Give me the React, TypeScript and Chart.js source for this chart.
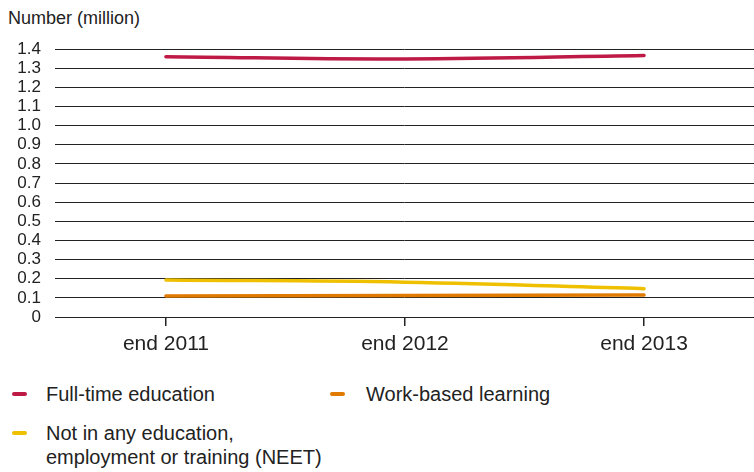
import React, { useEffect, useRef } from "react";
import { Chart, registerables } from "chart.js";

Chart.register(...registerables);

const categories = ["end 2011", "end 2012", "end 2013"];
const fullTime = [1.36, 1.348, 1.366];
const workBased = [0.11, 0.112, 0.115];
const neet = [0.193, 0.182, 0.148];
const yTicks = [0, 0.1, 0.2, 0.3, 0.4, 0.5, 0.6, 0.7, 0.8, 0.9, 1.0, 1.1, 1.2, 1.3, 1.4];

const seriesNames = [
  "Full-time education",
  "Work-based learning",
  "Not in any education, employment or training (NEET)",
];
const colors = ["#BE1A45", "#E07A00", "#EFC000"];
const FONT = "'Liberation Sans', Arial, sans-serif";

export default function App() {
  const ref = useRef<HTMLCanvasElement | null>(null);
  useEffect(() => {
    if (!ref.current) return;
    const chart = new Chart(ref.current, {
      type: "line",
      data: {
        datasets: [
          { label: seriesNames[0], data: fullTime.map((v, i) => ({ x: i, y: v })), borderColor: colors[0] },
          { label: seriesNames[1], data: workBased.map((v, i) => ({ x: i, y: v })), borderColor: colors[1] },
          { label: seriesNames[2], data: neet.map((v, i) => ({ x: i, y: v })), borderColor: colors[2] },
        ].map((d) => ({ ...d, borderWidth: 3.5, pointRadius: 0, tension: 0.4, fill: false, borderCapStyle: "round" as const })),
      },
      options: {
        responsive: false,
        animation: false,
        layout: { padding: { top: 49, left: 0, right: 0, bottom: 0 } },
        plugins: { legend: { display: false }, tooltip: { enabled: false }, title: { display: false } },
        scales: {
          x: {
            type: "linear",
            min: -0.464,
            max: 2.46,
            afterBuildTicks: (axis: any) => {
              axis.ticks = categories.map((_, i) => ({ value: i }));
            },
            afterFit: (axis: any) => {
              axis.height = 53;
            },
            ticks: {
              callback: (v: any) => categories[Number(v)] ?? "",
              font: { family: FONT, size: 21 },
              color: "#222",
              padding: 6,
              maxRotation: 0,
              autoSkip: false,
            },
            grid: { drawOnChartArea: false, drawTicks: true, tickLength: 9, color: "#222", lineWidth: 1.5 },
            border: { display: false },
          },
          y: {
            min: 0,
            max: 1.4,
            afterBuildTicks: (axis: any) => {
              axis.ticks = yTicks.map((v) => ({ value: v }));
            },
            afterFit: (axis: any) => {
              axis.width = 55;
            },
            ticks: {
              callback: (v: any) => (Number(v) === 0 ? "0" : Number(v).toFixed(1)),
              font: { family: FONT, size: 17 },
              color: "#222",
              padding: 14,
              autoSkip: false,
            },
            grid: { drawTicks: false, color: "#222", lineWidth: 1 },
            border: { display: false },
          },
        },
      },
    });
    return () => chart.destroy();
  }, []);

  const dash = (c: string, top: number) => (
    <span style={{ position: "absolute", left: 0, top, width: 15, height: 4, borderRadius: 2, background: c }} />
  );

  return (
    <div style={{ position: "fixed", left: 0, top: 0, width: 754, height: 472, background: "#fff", fontFamily: FONT, color: "#222" }}>
      <div style={{ position: "absolute", left: 8, top: 8, fontSize: 18 }}>Number (million)</div>
      <canvas ref={ref} width={754} height={370} style={{ position: "absolute", left: 0, top: 0 }} />
      <div style={{ position: "absolute", left: 12, top: 382, fontSize: 20, lineHeight: "24px", paddingLeft: 34, whiteSpace: "nowrap" }}>
        {dash(colors[0], 10)}
        {seriesNames[0]}
      </div>
      <div style={{ position: "absolute", left: 330, top: 382, fontSize: 20, lineHeight: "24px", paddingLeft: 36, whiteSpace: "nowrap" }}>
        {dash(colors[1], 10)}
        {seriesNames[1]}
      </div>
      <div style={{ position: "absolute", left: 12, top: 421, fontSize: 20, lineHeight: "24px", paddingLeft: 34, whiteSpace: "nowrap" }}>
        {dash(colors[2], 10)}
        Not in any education,
        <br />
        employment or training (NEET)
      </div>
    </div>
  );
}
